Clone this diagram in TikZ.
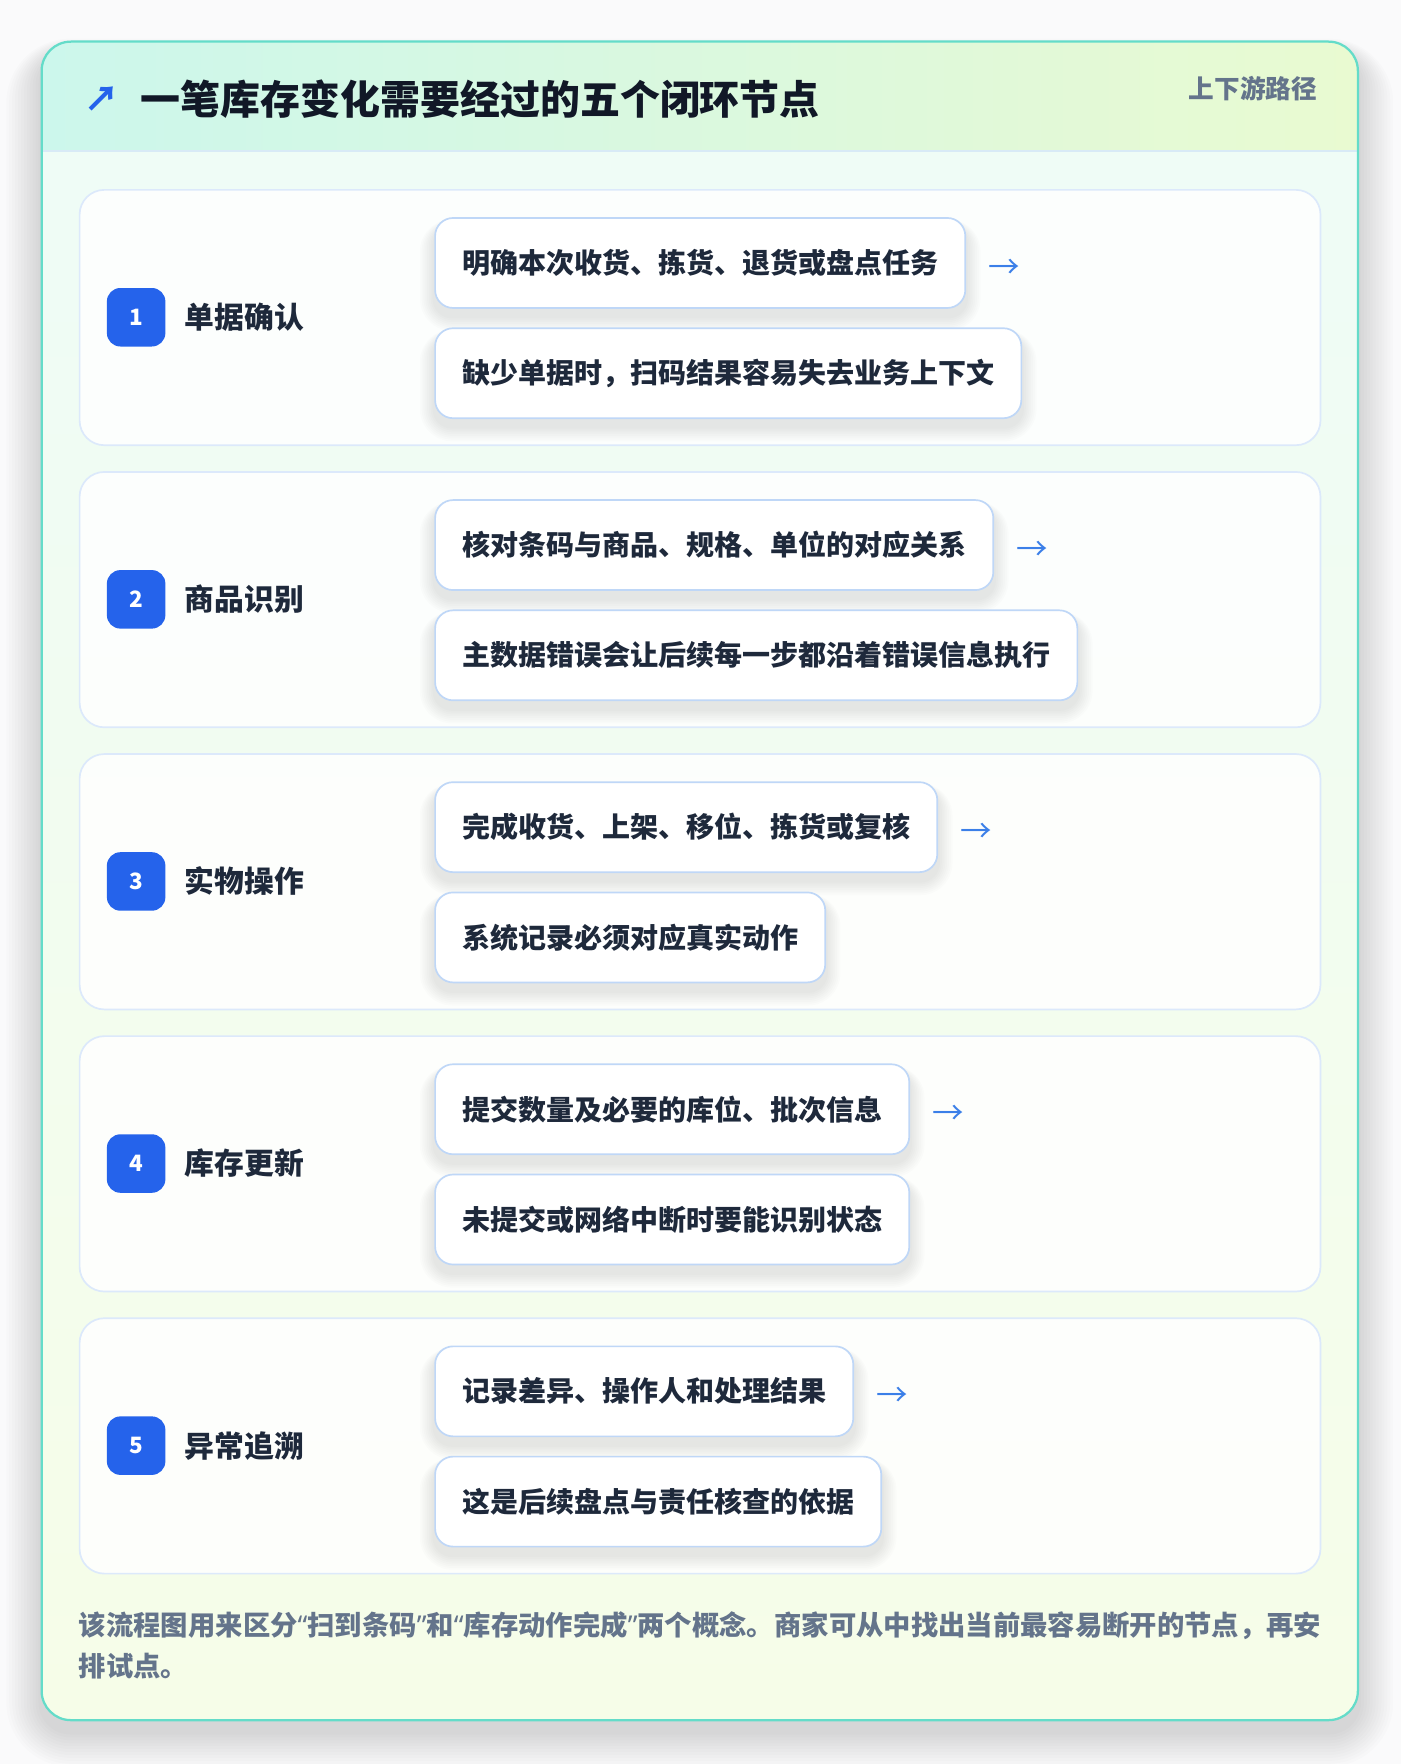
\documentclass[tikz,border=0pt]{standalone}
\usepackage{fontspec}
\setmainfont{Noto Sans CJK SC}
\newfontfamily\latinq{Noto Sans}
\definecolor{pagebg}{HTML}{FAFAFB}
\definecolor{tealb}{HTML}{64DCC9}
\definecolor{headl}{HTML}{CCF7EC}
\definecolor{headr}{HTML}{E9FAD1}
\definecolor{bodyt}{HTML}{EEFCF7}
\definecolor{bodyb}{HTML}{F6FDE8}
\definecolor{headline}{HTML}{D8EAF6}
\definecolor{cardb}{HTML}{DCE9FB}
\definecolor{itemb}{HTML}{BFD7F7}
\definecolor{badgec}{HTML}{2563EB}
\definecolor{arrowc}{HTML}{3B7FE8}
\definecolor{ink}{HTML}{111827}
\definecolor{inkb}{HTML}{1E293B}
\definecolor{muted}{HTML}{64748B}
\pgfdeclarelayer{front}
\pgfsetlayers{main,front}
\tikzset{
  stepcard/.style={draw=cardb, line width=1.5pt, fill=white, fill opacity=0.85, text opacity=1,
    rounded corners=22pt, minimum width=1103pt, minimum height=227pt, inner sep=0pt},
  badge/.style={fill=badgec, rounded corners=12pt, minimum width=52pt, minimum height=52pt,
    inner sep=0pt, text=white, font=\fontsize{20}{24}\selectfont\bfseries},
  steptitle/.style={anchor=west, inner sep=0pt, text=inkb, font=\fontsize{26.5}{30}\selectfont\bfseries},
  itembox/.style={anchor=north west, draw=itemb, line width=1.5pt, fill=white, rounded corners=16pt,
    minimum height=80pt, inner xsep=24pt, inner ysep=0pt, text=inkb,
    font=\fontsize{24.9}{28}\selectfont\bfseries},
  flowarrow/.style={anchor=west, inner sep=0pt, text=arrowc, font=\fontsize{28}{30}\selectfont},
  shadowstep/.style={fill=black, opacity=0.011},
  notetext/.style={anchor=base west, inner sep=0pt, text=muted, font=\fontsize{24.3}{28}\selectfont\bfseries},
}
% soft shadow below a node: name, y offset, spread per step, steps, base radius
\newcommand\softshadow[5]{%
  \foreach \k in {1,...,#4}{%
    \pgfmathsetmacro\rr{#5+\k*#3}%
    \pgfmathsetmacro\dd{\k*#3}%
    \fill[shadowstep, rounded corners=\rr pt]
      ([xshift=-\dd pt, yshift=#2-\dd pt]#1.south west) rectangle
      ([xshift=\dd pt, yshift=#2+0.4*\dd pt]#1.north east);
  }%
}
\begin{document}
\begin{tikzpicture}[x=1pt,y=1pt]
\useasboundingbox (0,0) rectangle (1245,-1568);
\fill[pagebg] (0,0) rectangle (1245,-1568);
% outer card
\coordinate (frameNW) at (37,-37);
\coordinate (frameSE) at (1207,-1529);
\node[inner sep=0pt, minimum width=1170pt, minimum height=1492pt] (frame) at (622,-783) {};
\softshadow{frame}{-10}{2.6}{12}{26}
\begin{scope}
  \clip[rounded corners=26pt] (frameNW) rectangle (frameSE);
  \shade[top color=bodyt, bottom color=bodyb] (frameNW) rectangle (frameSE);
  \shade[left color=headl, right color=headr] (frameNW) rectangle (1207,-134);
  \draw[headline, line width=2pt] (37,-134) -- (1207,-134);
\end{scope}
\draw[tealb, line width=2pt, rounded corners=26pt] (frameNW) rectangle (frameSE);
% header
\node[anchor=west, inner sep=0pt, text=badgec, font=\fontsize{31}{32}\selectfont\bfseries] (icon) at (75,-88) {↗};
\node[anchor=west, inner sep=0pt, text=ink, font=\fontsize{35.5}{40}\selectfont\bfseries] (title) at (125,-88)
  {一笔库存变化需要经过的五个闭环节点};
\node[anchor=east, inner sep=0pt, text=muted, font=\fontsize{22.8}{26}\selectfont\bfseries] (tag) at (1171,-79)
  {上下游路径};
% steps
\foreach \i/\ttl/\ta/\tb in {
  1/单据确认/明确本次收货、拣货、退货或盘点任务/缺少单据时，扫码结果容易失去业务上下文,
  2/商品识别/核对条码与商品、规格、单位的对应关系/主数据错误会让后续每一步都沿着错误信息执行,
  3/实物操作/完成收货、上架、移位、拣货或复核/系统记录必须对应真实动作,
  4/库存更新/提交数量及必要的库位、批次信息/未提交或网络中断时要能识别状态,
  5/异常追溯/记录差异、操作人和处理结果/这是后续盘点与责任核查的依据}{
  \pgfmathsetmacro\tp{168+(\i-1)*250.75}
  \node[stepcard, anchor=north west] (card\i) at (70,-\tp) {};
  \node[badge] (badge\i) at (121,-\tp-114) {\i};
  \node[steptitle] (name\i) at (164,-\tp-114) {\ttl};
  \begin{pgfonlayer}{front}
    \node[itembox] (ia\i) at (386,-\tp-25) {\ta};
    \node[itembox] (ib\i) at (386,-\tp-123) {\tb};
    \node[flowarrow] (arr\i) at ([xshift=20pt,yshift=-5pt]ia\i.east) {→};
  \end{pgfonlayer}
  \softshadow{ia\i}{-7}{1.6}{8}{16}
  \softshadow{ib\i}{-7}{1.6}{8}{16}
}
% footer
\node[notetext] (note1) at (70,-1454)
  {该流程图用来区分{\latinq“}扫到条码{\latinq”}和{\latinq“}库存动作完成{\latinq”}两个概念。商家可从中找出当前最容易断开的节点，再安};
\node[notetext] (note2) at (70,-1490) {排试点。};
\end{tikzpicture}
\end{document}
